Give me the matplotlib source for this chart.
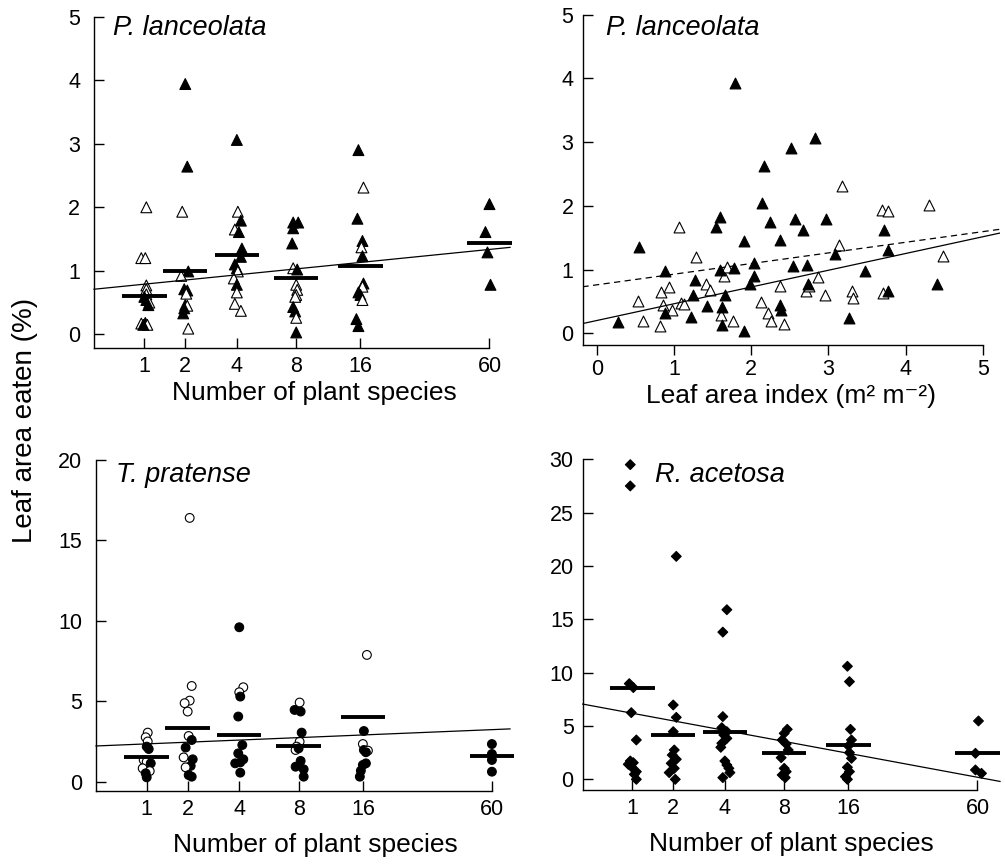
import numpy as np
import matplotlib
matplotlib.use('Agg')
import matplotlib.pyplot as plt

plt.rcParams['font.family'] = ['Liberation Sans', 'DejaVu Sans']

# sown diversity levels (x axis of panels A, C, D)
levels = [1, 2, 4, 8, 16, 60]

# ---- P. lanceolata vs. species richness (triangles, open = 1 = open symbol)
pl_level = [1]*14 + [2]*13 + [4]*15 + [8]*14 + [16]*13 + [60]*4
pl_value = [2.00, 1.20, 1.20, 0.77, 0.71, 0.63, 0.59, 0.54, 0.50, 0.46, 0.17, 0.18, 0.15, 0.15,
            3.94, 2.64, 1.93, 0.99, 0.92, 0.71, 0.69, 0.64, 0.46, 0.45, 0.41, 0.33, 0.09,
            3.06, 1.93, 1.79, 1.65, 1.61, 1.35, 1.22, 1.10, 1.04, 0.99, 0.88, 0.78, 0.66, 0.48, 0.37,
            1.76, 1.76, 1.67, 1.43, 1.04, 1.02, 0.78, 0.70, 0.62, 0.59, 0.43, 0.36, 0.26, 0.03,
            2.90, 2.31, 1.82, 1.47, 1.37, 1.23, 0.80, 0.75, 0.66, 0.62, 0.54, 0.24, 0.13,
            2.05, 1.61, 1.29, 0.78]
pl_open = [1, 1, 1, 1, 1, 1, 0, 0, 1, 0, 1, 0, 1, 0,
           0, 0, 1, 0, 1, 0, 0, 1, 0, 1, 0, 0, 1,
           0, 1, 0, 1, 0, 0, 0, 0, 0, 1, 1, 0, 1, 1, 1,
           0, 0, 0, 0, 1, 0, 1, 1, 1, 1, 0, 0, 1, 0,
           0, 1, 0, 0, 1, 0, 0, 1, 0, 0, 1, 0, 0,
           0, 0, 0, 0]
pl_jitter = [0.02, -0.03, 0.01, 0.02, 0.02, 0.02, 0.0, 0.02, 0.05, 0.04, -0.03, 0.01, 0.03, -0.01,
             0.0, 0.02, -0.03, 0.03, -0.04, -0.01, 0.02, 0.01, 0.0, 0.02, -0.01, -0.02, 0.03,
             0.0, 0.01, 0.04, -0.02, 0.02, 0.05, 0.04, -0.02, 0.0, 0.01, -0.03, 0.0, 0.0, -0.02, 0.04,
             -0.03, 0.02, -0.03, -0.04, -0.03, 0.01, 0.0, 0.01, 0.0, -0.01, -0.03, -0.01, 0.0, 0.0,
             -0.02, 0.03, -0.03, 0.02, 0.01, 0.02, 0.03, 0.02, -0.02, 0.0, 0.02, -0.04, -0.02,
             0.0, -0.04, -0.02, 0.01]
pl_means = [0.61, 1.00, 1.25, 0.88, 1.08, 1.44]
pl_fit = (0.679, 0.16)   # intercept, slope on log(n + 1)

# ---- P. lanceolata vs. leaf area index
lai_filled_x = [0.27, 0.55, 0.88, 0.88, 1.22, 1.24, 1.27, 1.43, 1.55, 1.60, 1.59, 1.62, 1.62, 1.66,
                1.79, 1.78, 1.91, 1.91, 1.98, 2.03, 2.04, 2.14, 2.16, 2.24, 2.37, 2.37, 2.39, 2.51,
                2.54, 2.57, 2.67, 2.72, 2.74, 2.82, 2.97, 3.08, 3.27, 3.47, 3.72, 3.77, 3.77, 4.41]
lai_filled_y = [0.18, 1.35, 0.98, 0.32, 0.25, 0.60, 0.83, 0.43, 1.67, 1.83, 1.00, 0.42, 0.13, 0.60,
                3.92, 1.02, 1.44, 0.03, 0.77, 0.90, 1.11, 2.05, 2.63, 1.74, 1.47, 0.45, 0.36, 2.90,
                1.05, 1.79, 1.62, 1.07, 0.78, 3.06, 1.79, 1.24, 0.24, 0.98, 1.62, 1.30, 0.66, 0.78]
lai_open_x = [0.54, 0.60, 0.82, 0.83, 0.86, 0.94, 0.98, 1.07, 1.09, 1.13, 1.29, 1.41, 1.47, 1.61,
              1.65, 1.68, 1.77, 2.13, 2.22, 2.25, 2.37, 2.42, 2.71, 2.75, 2.86, 2.95, 3.13, 3.17,
              3.31, 3.32, 3.69, 3.77, 3.71, 4.30, 4.48]
lai_open_y = [0.50, 0.20, 0.12, 0.64, 0.44, 0.72, 0.37, 1.66, 0.48, 0.46, 1.19, 0.78, 0.68, 0.29,
              0.90, 1.04, 0.20, 0.49, 0.32, 0.19, 0.74, 0.14, 0.66, 0.74, 0.89, 0.60, 1.39, 2.31,
              0.66, 0.55, 1.93, 1.92, 0.63, 2.01, 1.21]
lai_fit_solid = (0.20, 0.263)
lai_fit_dashed = (0.76, 0.167)

# ---- T. pratense (circles)
tp_level = [1]*12 + [2]*14 + [4]*11 + [8]*12 + [16]*10 + [60]*4
tp_value = [3.05, 2.76, 2.50, 2.18, 2.03, 1.35, 1.24, 1.14, 0.83, 0.66, 0.52, 0.27,
            16.4, 5.95, 5.04, 4.88, 4.36, 2.84, 2.59, 2.12, 1.51, 1.39, 0.98, 0.89, 0.41, 0.31,
            9.60, 5.87, 5.56, 5.29, 4.05, 2.28, 1.76, 1.39, 1.20, 1.14, 0.56,
            4.92, 4.46, 4.36, 3.05, 2.49, 2.18, 1.97, 2.07, 1.29, 0.93, 0.77, 0.31,
            7.88, 3.15, 2.34, 1.97, 1.93, 1.83, 1.14, 1.04, 0.68, 0.31,
            2.34, 1.72, 1.35, 0.62]
tp_open = [1, 1, 1, 0, 0, 1, 1, 0, 1, 1, 0, 0,
           1, 1, 1, 1, 1, 1, 0, 0, 1, 0, 0, 1, 0, 0,
           0, 1, 1, 0, 0, 0, 0, 0, 0, 0, 0,
           1, 0, 0, 0, 1, 1, 1, 0, 0, 0, 0, 0,
           1, 0, 1, 0, 1, 0, 0, 0, 0, 0,
           0, 0, 0, 0]
tp_jitter = [0.01, -0.01, 0.01, 0.0, 0.02, -0.03, 0.0, 0.04, -0.04, 0.03, -0.01, 0.0,
             0.02, 0.04, 0.02, -0.03, 0.0, 0.01, 0.04, -0.02, -0.04, 0.05, 0.03, -0.02, 0.01, 0.04,
             0.0, 0.04, 0.0, 0.01, -0.01, 0.03, -0.01, 0.04, 0.01, -0.04, 0.01,
             0.01, -0.04, 0.02, 0.03, 0.01, -0.02, -0.03, 0.0, 0.02, -0.03, 0.05, 0.05,
             0.04, 0.01, 0.0, 0.01, 0.05, 0.03, 0.03, 0.0, -0.02, -0.03,
             0.0, 0.0, 0.0, 0.0]
tp_means = [1.56, 3.36, 2.90, 2.22, 4.00, 1.60]
tp_fit = (2.17, 0.259)

# ---- R. acetosa (diamonds)
ra_level = [1]*13 + [2]*11 + [4]*14 + [8]*10 + [16]*11 + [60]*4
ra_value = [29.5, 27.5, 8.97, 8.60, 6.25, 3.69, 1.72, 1.56, 1.41, 1.19, 0.72, 0.47, 0.0,
            20.9, 6.97, 5.81, 4.47, 2.75, 2.28, 1.88, 1.50, 1.03, 0.63, 0.0,
            15.9, 13.8, 5.88, 4.84, 4.47, 4.16, 3.84, 3.38, 3.00, 1.72, 1.34, 1.03, 0.63, 0.16,
            4.69, 4.31, 3.69, 3.31, 2.75, 2.03, 1.03, 0.72, 0.41, 0.16,
            10.6, 9.16, 4.69, 3.69, 3.13, 2.50, 1.97, 1.13, 0.72, 0.25, 0.0,
            5.47, 2.44, 0.88, 0.56]
ra_jitter = [-0.02, -0.02, -0.03, 0.01, -0.01, 0.04, -0.02, 0.01, -0.04, -0.01, 0.04, 0.02, 0.04,
             0.03, 0.0, 0.03, 0.0, 0.01, -0.01, 0.03, -0.02, 0.01, -0.04, 0.02,
             0.02, -0.02, -0.02, -0.03, 0.02, -0.01, 0.02, -0.03, -0.04, 0.0, 0.02, 0.04, 0.05, -0.02,
             0.03, 0.0, -0.02, 0.02, 0.04, -0.03, 0.0, 0.02, -0.02, 0.01,
             -0.01, 0.01, 0.02, 0.03, 0.0, 0.01, 0.03, -0.01, 0.01, -0.03, -0.01,
             0.01, -0.02, -0.02, 0.04]
ra_means = [8.59, 4.16, 4.47, 2.44, 3.19, 2.50]
ra_fit = (7.41, -1.755)

W, H = 1005, 864
fig = plt.figure(figsize=(W / 100, H / 100), dpi=100)

TICK_FS = 15.5
LABEL_FS = 19


def add_axes_px(left, top, right, bottom):
    return fig.add_axes([left / W, 1 - bottom / H, (right - left) / W, (bottom - top) / H])


def style_axes(ax, yticks, xdir='in', ypad=10):
    for s in ['top', 'right']:
        ax.spines[s].set_visible(False)
    for s in ['left', 'bottom']:
        ax.spines[s].set_linewidth(1.0)
    ax.set_yticks(yticks)
    ax.tick_params(axis='y', direction='in', length=7, width=1, labelsize=TICK_FS, pad=ypad)
    ax.tick_params(axis='x', direction=xdir, length=7, width=1, labelsize=TICK_FS,
                   pad=6 if xdir == 'in' else 3)


def diversity_panel(ax, level, value, jitter, is_open, marker, ms, means, fit, ylim, yticks, ypad):
    t = np.log1p(np.array(level, dtype=float)) + np.array(jitter)
    v = np.array(value)
    face = ['white' if o else 'black' for o in is_open]
    ax.scatter(t, v, s=ms ** 2, marker=marker, facecolors=face, edgecolors='black',
               linewidths=0.8, zorder=2, clip_on=False)
    tl = np.log1p(levels)
    ax.hlines(means, tl - 0.22, tl + 0.22, colors='black', lw=2.8, zorder=4, clip_on=False)
    ax.set_ylim(*ylim)
    xl = ax.get_xlim()
    tt = np.array(xl)
    ax.plot(tt, fit[0] + fit[1] * tt, color='black', lw=0.9, zorder=3, clip_on=False)
    ax.set_xticks(tl, [str(n) for n in levels])
    ax.spines['bottom'].set_bounds(xl[0], tl[-1])
    style_axes(ax, yticks, 'in', ypad)
    ax.set_xlabel('Number of plant species', fontsize=LABEL_FS)
    ax.xaxis.label.set_va('top')


# panel A
axA = add_axes_px(94, 16.7, 510, 347.7)
axA.set_xlim(0.195, 4.314)
diversity_panel(axA, pl_level, pl_value, pl_jitter, pl_open, '^', 7.8, pl_means, pl_fit,
                (-0.21, 5), [0, 1, 2, 3, 4, 5], 10)
axA.xaxis.set_label_coords(0.53, -0.1)

# panel B
axB = add_axes_px(582.5, 14.6, 1000, 345)
axB.set_xlim(-0.184, 5.22)
axB.set_ylim(-0.184, 5)
axB.scatter(lai_open_x, lai_open_y, s=7.8 ** 2, marker='^', facecolors='white',
            edgecolors='black', linewidths=0.8, zorder=2)
axB.scatter(lai_filled_x, lai_filled_y, s=7.8 ** 2, marker='^', facecolors='black',
            edgecolors='black', linewidths=0.8, zorder=2)
xx = np.array(axB.get_xlim())
axB.plot(xx, lai_fit_solid[0] + lai_fit_solid[1] * xx, color='black', lw=0.9, zorder=3)
axB.plot(xx, lai_fit_dashed[0] + lai_fit_dashed[1] * xx, color='black', lw=0.9,
         ls=(0, (5, 3.5)), zorder=3)
axB.set_xticks([0, 1, 2, 3, 4, 5])
axB.spines['bottom'].set_bounds(-0.184, 5)
style_axes(axB, [0, 1, 2, 3, 4, 5], 'out', 6.5)
axB.set_xlabel('Leaf area index (m² m⁻²)', fontsize=LABEL_FS, labelpad=3)

# panel C
axC = add_axes_px(96, 460, 510, 791)
axC.set_xlim(0.191, 4.29)
diversity_panel(axC, tp_level, tp_value, tp_jitter, tp_open, 'o', 6.3, tp_means, tp_fit,
                (-0.58, 20), [0, 5, 10, 15, 20], 10)
axC.xaxis.set_label_coords(0.531, -0.128)

# panel D
axD = add_axes_px(582.7, 459.3, 1000, 790)
axD.set_xlim(0.202, 4.334)
diversity_panel(axD, ra_level, ra_value, ra_jitter, [0] * len(ra_value), 'D', 5.0, ra_means,
                ra_fit, (-1.0, 30), [0, 5, 10, 15, 20, 25, 30], 6.5)
axD.xaxis.set_label_coords(0.5, -0.128)

# species names
fig.text(113 / W, 1 - 35 / H, 'P. lanceolata', fontsize=19.5, style='italic', va='baseline')
fig.text(606 / W, 1 - 35 / H, 'P. lanceolata', fontsize=19.5, style='italic', va='baseline')
fig.text(116 / W, 1 - 482 / H, 'T. pratense', fontsize=19.5, style='italic', va='baseline')
fig.text(655 / W, 1 - 482 / H, 'R. acetosa', fontsize=19.5, style='italic', va='baseline')

fig.text(25 / W, 1 - 420 / H, 'Leaf area eaten (%)', fontsize=20, rotation=90,
         ha='center', va='center')

fig.savefig('out.png', dpi=100)
